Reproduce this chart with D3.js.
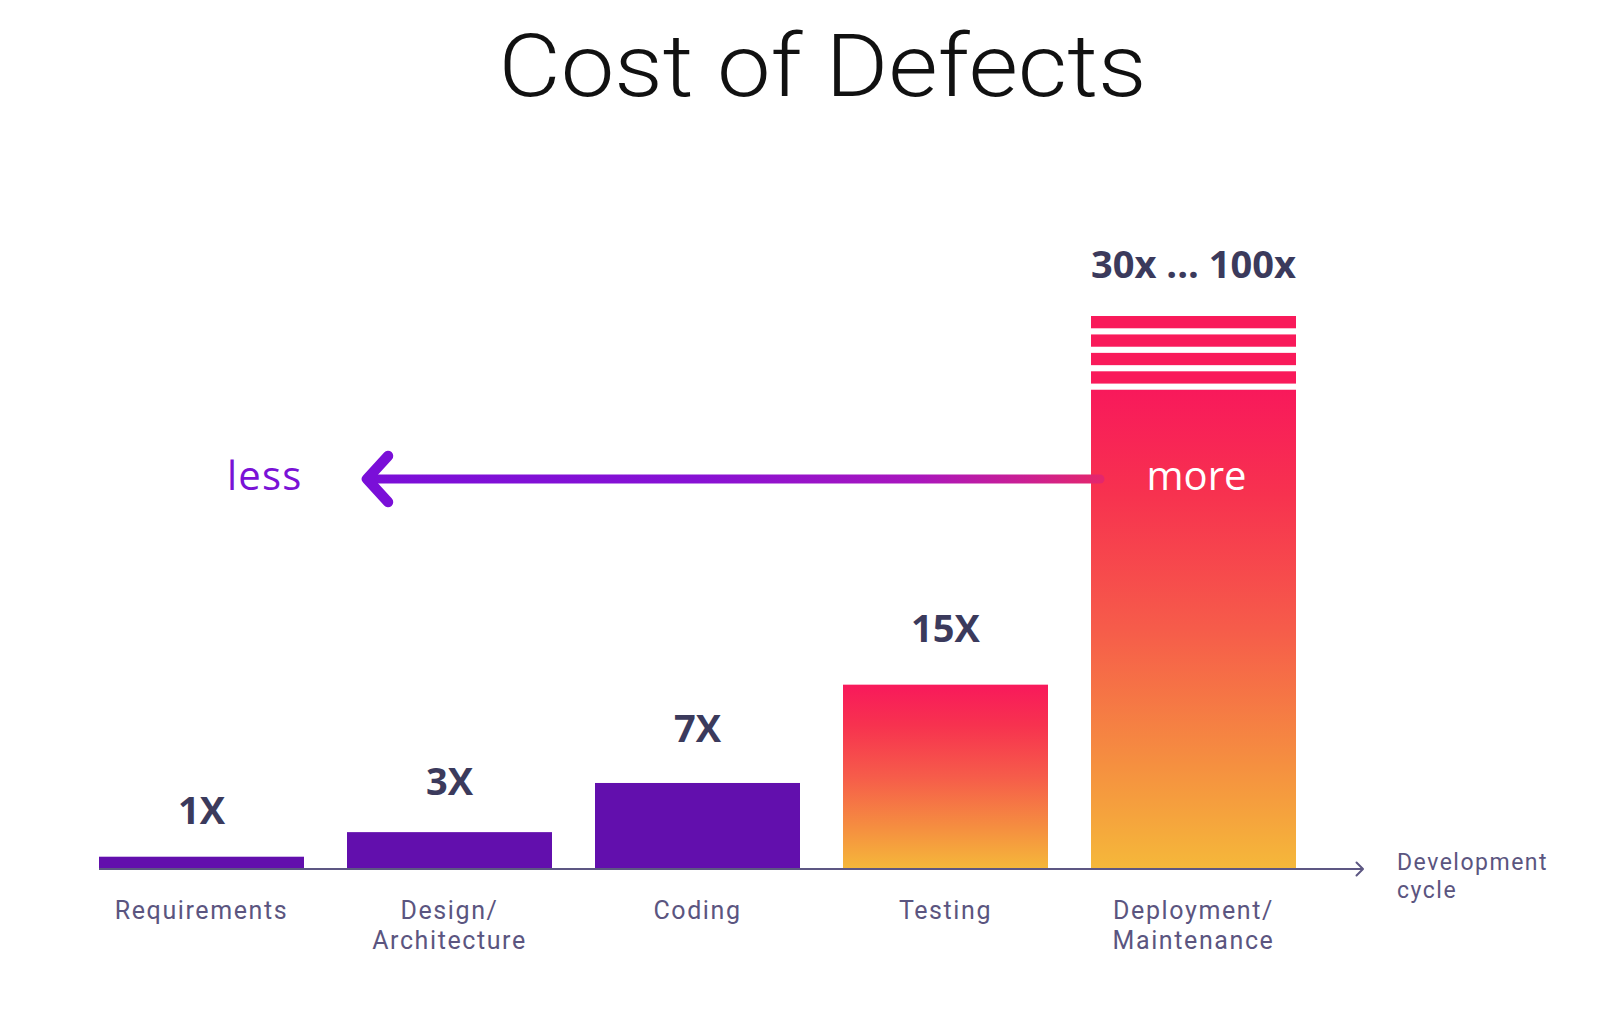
<!DOCTYPE html>
<html>
<head>
<meta charset="utf-8">
<script src="https://cdn.jsdelivr.net/npm/d3@7"></script>
<style>
  html, body { margin: 0; padding: 0; background: #ffffff; }
  svg { display: block; }
</style>
</head>
<body>
<svg id="chart" width="1600" height="1030"></svg>
<script>
// ---- data ----
const categories = ["Requirements", "Design/\nArchitecture", "Coding", "Testing", "Deployment/\nMaintenance"];
const values = [1, 3, 7, 15, 39];               // drawn bar height (relative cost units)
const valueLabels = ["1X", "3X", "7X", "15X", "30x ... 100x"];
const fillKind = ["solid", "solid", "solid", "gradient", "gradient"];
// "broken" continuation stripes on top of the last bar: [from, to] in cost units
const breakStripes = [[39.5, 40.5], [41, 42], [42.5, 43.5], [44, 45]];
const yMax = 45;
const title = "Cost of Defects";
const axisTitle = ["Development", "cycle"];
const arrowLabels = ["less", "more"];

// ---- layout constants ----
const labelGap = [33, 37, 41, 43, 38];   // px between bar top and value-label baseline

const svg = d3.select("#chart");
const baseY = 869;
const x = d3.scaleBand().domain(categories).range([99, 1296]).paddingInner(0.1734).paddingOuter(0);
const y = d3.scaleLinear().domain([0, yMax]).range([baseY, 316]);

const defs = svg.append("defs");
const g1 = defs.append("linearGradient").attr("id", "hot").attr("x1", 0).attr("y1", 0).attr("x2", 0).attr("y2", 1);
[[0, "#f8195b"], [0.22, "#f7324f"], [0.5, "#f65c4a"], [0.78, "#f58f40"], [1, "#f5b83a"]]
  .forEach(([o, c]) => g1.append("stop").attr("offset", o).attr("stop-color", c));

const g2 = defs.append("linearGradient").attr("id", "arrowGrad").attr("gradientUnits", "userSpaceOnUse")
  .attr("x1", 367).attr("y1", 0).attr("x2", 1100).attr("y2", 0);
[[0, "#7a0fd8"], [0.45, "#8711d4"], [0.75, "#a916bd"], [0.9, "#cb1f92"], [1, "#e4266c"]]
  .forEach(([o, c]) => g2.append("stop").attr("offset", o).attr("stop-color", c));

// title
svg.append("text")
  .attr("x", 822.5).attr("y", 96)
  .attr("text-anchor", "middle")
  .attr("font-family", "Roboto, 'Open Sans', sans-serif")
  .attr("font-weight", 300)
  .attr("font-size", 88)
  .attr("fill", "#111111")
  .attr("textLength", 648)
  .attr("lengthAdjust", "spacingAndGlyphs")
  .text(title);

// bars
const data = categories.map((c, i) => ({ c, v: values[i], label: valueLabels[i], kind: fillKind[i], i }));

svg.append("g").selectAll("rect.bar").data(data).join("rect")
  .attr("class", "bar")
  .attr("x", d => x(d.c))
  .attr("width", x.bandwidth())
  .attr("y", d => y(d.v))
  .attr("height", d => y(0) - y(d.v))
  .attr("fill", d => d.kind === "solid" ? "#620fad" : "url(#hot)");

// break stripes on last bar
const lastCat = categories[categories.length - 1];
svg.append("g").selectAll("rect.stripe").data(breakStripes).join("rect")
  .attr("x", x(lastCat))
  .attr("width", x.bandwidth())
  .attr("y", d => y(d[1]))
  .attr("height", d => y(d[0]) - y(d[1]))
  .attr("fill", "#f91a5a");

// value labels
svg.append("g").selectAll("text").data(data).join("text")
  .attr("x", d => x(d.c) + x.bandwidth() / 2)
  .attr("y", d => y(d.i === data.length - 1 ? yMax : d.v) - labelGap[d.i])
  .attr("text-anchor", "middle")
  .attr("font-family", "'Open Sans', sans-serif")
  .attr("font-weight", 700)
  .attr("font-size", 38)
  .attr("fill", "#3b3a5c")
  .attr("letter-spacing", 0)
  .text(d => d.label);

// axis line with arrow
svg.append("line")
  .attr("x1", 99).attr("x2", 1363).attr("y1", baseY).attr("y2", baseY)
  .attr("stroke", "#5d5783").attr("stroke-width", 2);
svg.append("path")
  .attr("d", `M1356.5,${baseY - 6.5} L1363,${baseY} L1356.5,${baseY + 6.5}`)
  .attr("fill", "none").attr("stroke", "#5d5783").attr("stroke-width", 2)
  .attr("stroke-linecap", "round").attr("stroke-linejoin", "round");

// category labels (one text element per line)
const catG = svg.append("g");
data.forEach(d => {
  d.c.split("\n").forEach((ln, k) => {
    catG.append("text")
      .attr("x", x(d.c) + x.bandwidth() / 2)
      .attr("y", 919 + k * 30)
      .attr("text-anchor", "middle")
      .attr("font-family", "Roboto, 'Open Sans', sans-serif")
      .attr("font-size", 25)
      .attr("letter-spacing", 1.6)
      .attr("fill", "#5b5580")
      .text(ln);
  });
});

// axis title
axisTitle.forEach((ln, k) => {
  svg.append("text")
    .attr("x", 1397).attr("y", 870 + k * 28)
    .attr("font-family", "Roboto, 'Open Sans', sans-serif")
    .attr("font-size", 23)
    .attr("letter-spacing", 1.5)
    .attr("fill", "#5b5580")
    .text(ln);
});

// less <- more arrow
const arrowY = 479;
svg.append("line")
  .attr("x1", 368).attr("x2", 1100).attr("y1", arrowY).attr("y2", arrowY)
  .attr("stroke", "url(#arrowGrad)").attr("stroke-width", 9).attr("stroke-linecap", "round");
svg.append("path")
  .attr("d", `M388,${arrowY - 23} L367,${arrowY} L388,${arrowY + 23}`)
  .attr("fill", "none").attr("stroke", "#7a0fd8").attr("stroke-width", 10.5)
  .attr("stroke-linecap", "round").attr("stroke-linejoin", "round");

svg.append("text")
  .attr("x", 227).attr("y", 490)
  .attr("font-family", "'Open Sans', sans-serif")
  .attr("font-size", 40)
  .attr("letter-spacing", 1.2)
  .attr("fill", "#7a12d6")
  .text(arrowLabels[0]);

svg.append("text")
  .attr("x", x(lastCat) + x.bandwidth() / 2 + 3).attr("y", 490)
  .attr("text-anchor", "middle")
  .attr("font-family", "'Open Sans', sans-serif")
  .attr("font-size", 40)
  .attr("fill", "#ffffff")
  .text(arrowLabels[1]);
</script>
</body>
</html>
